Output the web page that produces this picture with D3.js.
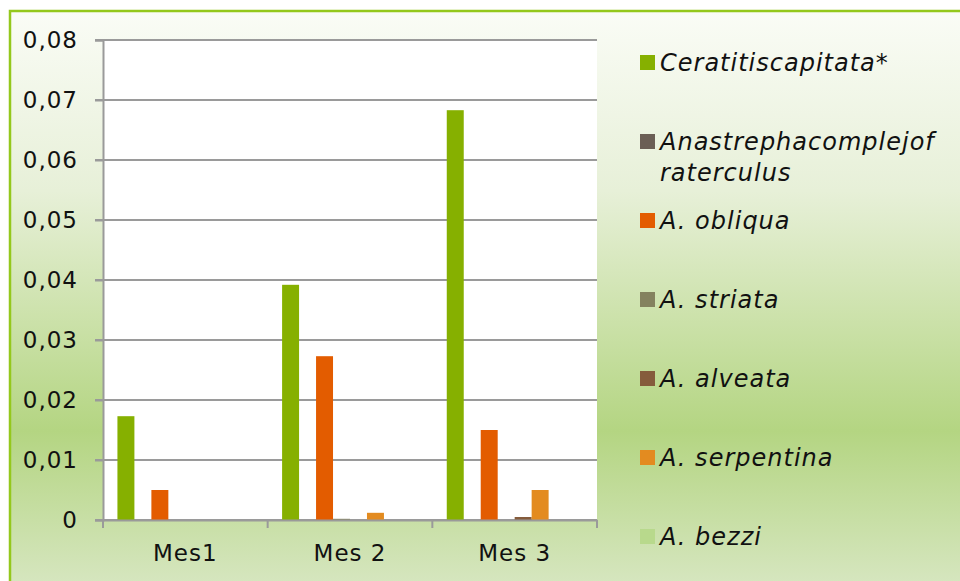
<!DOCTYPE html>
<html>
<head>
<meta charset="utf-8">
<script src="https://cdn.jsdelivr.net/npm/d3@7"></script>
<style>
  body { margin: 0; background: #fff; }
  svg { display: block; }
</style>
</head>
<body>
<svg id="chart" width="960" height="581"></svg>
<script>
// datos
const meses = ["Mes1", "Mes 2", "Mes 3"];
const especies = ["Ceratitiscapitata*", "Anastrephacomplejof raterculus", "A. obliqua", "A. striata", "A. alveata", "A. serpentina", "A. bezzi"];
const colores = ["#86b000", "#6b5f55", "#e35c00", "#84825f", "#855c3c", "#e38b20", "#b8d98c"];
const ceratitis = [0.0173, 0.0392, 0.0683];
const anastrepha = [0, 0, 0];
const obliqua = [0.005, 0.0273, 0.015];
const striata = [0, 0.0002, 0];
const alveata = [0, 0, 0.0005];
const serpentina = [0, 0.0012, 0.005];
const bezzi = [0, 0, 0];
const yTicks = [0, 0.01, 0.02, 0.03, 0.04, 0.05, 0.06, 0.07, 0.08];

const series = [ceratitis, anastrepha, obliqua, striata, alveata, serpentina, bezzi];

const svg = d3.select("#chart");
const fuente = "'DejaVu Sans', sans-serif";

// fondo con degradado
const defs = svg.append("defs");
const grad = defs.append("linearGradient").attr("id", "fondo")
  .attr("x1", 0).attr("y1", 0).attr("x2", 0).attr("y2", 1);
grad.append("stop").attr("offset", "0%").attr("stop-color", "#fafcf6");
grad.append("stop").attr("offset", "30%").attr("stop-color", "#e7f0d8");
grad.append("stop").attr("offset", "70%").attr("stop-color", "#b4d582");
grad.append("stop").attr("offset", "100%").attr("stop-color", "#dce9ca");

svg.append("rect")
  .attr("x", 10).attr("y", 11).attr("width", 990).attr("height", 600)
  .attr("fill", "url(#fondo)")
  .attr("stroke", "#94c81c").attr("stroke-width", 2.5);

const m = { left: 103, top: 40, right: 597, bottom: 520 };

const x0 = d3.scaleBand().domain(meses).range([m.left, m.right]);
// el grupo reserva 8 huecos (uno queda fuera del recorte)
const x1 = d3.scaleBand().domain(d3.range(8)).range([0, x0.bandwidth()]).paddingOuter(0.85);
const y = d3.scaleLinear().domain([0, 0.08]).range([m.bottom, m.top]);

// area de trazado
svg.append("rect")
  .attr("x", m.left).attr("y", m.top)
  .attr("width", m.right - m.left).attr("height", m.bottom - m.top)
  .attr("fill", "#fff");

const fmt = d => d === 0 ? "0" : d3.format(".2f")(d).replace(".", ",");

// lineas de division
svg.append("g").selectAll("line").data(yTicks).join("line")
  .attr("x1", m.left - 8).attr("x2", m.right)
  .attr("y1", d => y(d)).attr("y2", d => y(d))
  .attr("stroke", "#9a9a9a").attr("stroke-width", 2);

// barras
const grupos = svg.append("g").selectAll("g").data(meses).join("g")
  .attr("transform", d => `translate(${x0(d)},0)`);

grupos.selectAll("rect")
  .data((d, i) => series.map((s, k) => ({ k: k, v: s[i] })))
  .join("rect")
  .attr("x", d => x1(d.k))
  .attr("width", x1.bandwidth())
  .attr("y", d => y(d.v))
  .attr("height", d => y(0) - y(d.v))
  .attr("fill", d => colores[d.k]);

// eje y
const ejeY = svg.append("g").attr("transform", `translate(${m.left},0)`)
  .call(d3.axisLeft(y).tickValues(yTicks).tickFormat(fmt).tickSize(8).tickPadding(17));
ejeY.select(".domain").attr("stroke", "#9a9a9a").attr("stroke-width", 2);
ejeY.selectAll(".tick line").attr("stroke", "#9a9a9a").attr("stroke-width", 2);
ejeY.selectAll("text").attr("font-family", fuente).attr("font-size", 23)
  .attr("letter-spacing", 1).attr("fill", "#111");

// eje x
const ejeX = svg.append("g").attr("transform", `translate(0,${m.bottom})`)
  .call(d3.axisBottom(x0).tickSize(0).tickPadding(25));
ejeX.select(".domain").attr("stroke", "#9a9a9a").attr("stroke-width", 2);
ejeX.selectAll("text").attr("font-family", fuente).attr("font-size", 23)
  .attr("letter-spacing", 1).attr("fill", "#111");
ejeX.selectAll(".sep").data(meses.concat(["fin"])).join("line")
  .attr("class", "sep")
  .attr("x1", (d, i) => i < meses.length ? x0(d) : m.right)
  .attr("x2", (d, i) => i < meses.length ? x0(d) : m.right)
  .attr("y1", 0).attr("y2", 8)
  .attr("stroke", "#9a9a9a").attr("stroke-width", 2);

// leyenda
const leyenda = svg.append("g").selectAll("g").data(especies).join("g")
  .attr("transform", (d, i) => `translate(640,${55 + i * 79})`);
leyenda.append("rect")
  .attr("width", 15).attr("height", 15)
  .attr("fill", (d, i) => colores[i]);
leyenda.append("text")
  .attr("x", 20).attr("y", 16)
  .attr("font-family", fuente).attr("font-size", 24).attr("font-style", "italic")
  .attr("letter-spacing", 1).attr("fill", "#111")
  .each(function (d) {
    const partes = d.split(" raterculus");
    const t = d3.select(this);
    t.append("tspan").text(partes[0]);
    if (partes.length > 1) t.append("tspan").attr("x", 20).attr("dy", 31).text("raterculus");
  });
</script>
</body>
</html>
